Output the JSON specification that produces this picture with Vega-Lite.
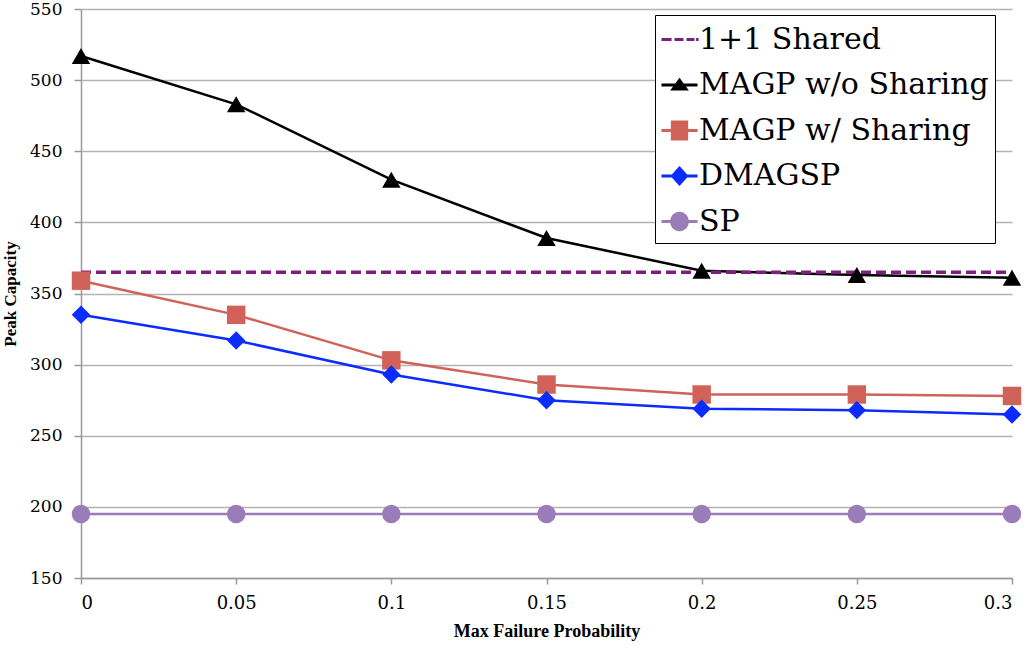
{
  "$schema": "https://vega.github.io/schema/vega-lite/v6.json",
  "width": 931,
  "height": 569,
  "autosize": {"type": "none"},
  "padding": {"left": 81, "top": 9, "right": 18, "bottom": 75},
  "background": "white",
  "config": {"view": {"stroke": null}, "font": "Liberation Serif"},
  "data": {
    "values": [
      {"series": "1+1 Shared", "p": 0, "cap": 365},
      {"series": "1+1 Shared", "p": 0.3, "cap": 365},
      {"series": "MAGP w/o Sharing", "p": 0, "cap": 517},
      {"series": "MAGP w/o Sharing", "p": 0.05, "cap": 483},
      {"series": "MAGP w/o Sharing", "p": 0.1, "cap": 430},
      {"series": "MAGP w/o Sharing", "p": 0.15, "cap": 389},
      {"series": "MAGP w/o Sharing", "p": 0.2, "cap": 366},
      {"series": "MAGP w/o Sharing", "p": 0.25, "cap": 363},
      {"series": "MAGP w/o Sharing", "p": 0.3, "cap": 361},
      {"series": "MAGP w/ Sharing", "p": 0, "cap": 359},
      {"series": "MAGP w/ Sharing", "p": 0.05, "cap": 335},
      {"series": "MAGP w/ Sharing", "p": 0.1, "cap": 303},
      {"series": "MAGP w/ Sharing", "p": 0.15, "cap": 286},
      {"series": "MAGP w/ Sharing", "p": 0.2, "cap": 279},
      {"series": "MAGP w/ Sharing", "p": 0.25, "cap": 279},
      {"series": "MAGP w/ Sharing", "p": 0.3, "cap": 278},
      {"series": "DMAGSP", "p": 0, "cap": 335},
      {"series": "DMAGSP", "p": 0.05, "cap": 317},
      {"series": "DMAGSP", "p": 0.1, "cap": 293},
      {"series": "DMAGSP", "p": 0.15, "cap": 275},
      {"series": "DMAGSP", "p": 0.2, "cap": 269},
      {"series": "DMAGSP", "p": 0.25, "cap": 268},
      {"series": "DMAGSP", "p": 0.3, "cap": 265},
      {"series": "SP", "p": 0, "cap": 195},
      {"series": "SP", "p": 0.05, "cap": 195},
      {"series": "SP", "p": 0.1, "cap": 195},
      {"series": "SP", "p": 0.15, "cap": 195},
      {"series": "SP", "p": 0.2, "cap": 195},
      {"series": "SP", "p": 0.25, "cap": 195},
      {"series": "SP", "p": 0.3, "cap": 195}
    ]
  },
  "encoding": {
    "x": {
      "field": "p", "type": "quantitative",
      "scale": {"domain": [0, 0.3], "nice": false, "zero": false},
      "axis": {
        "title": "Max Failure Probability",
        "values": [0, 0.05, 0.1, 0.15, 0.2, 0.25, 0.3],
        "format": ".2~f",
        "grid": false,
        "domainColor": "#999999", "domainWidth": 1.5,
        "tickColor": "#999999", "tickSize": 6, "tickWidth": 1.5,
        "labelFont": "DejaVu Serif", "labelFontSize": 18, "labelColor": "black",
        "labelPadding": 10,
        "titleFont": "Liberation Serif", "titleFontSize": 18, "titleFontWeight": "bold", "titleColor": "black",
        "titlePadding": 10
      }
    },
    "y": {
      "field": "cap", "type": "quantitative",
      "scale": {"domain": [150, 550], "nice": false, "zero": false},
      "axis": {
        "title": "Peak Capacity",
        "values": [150, 200, 250, 300, 350, 400, 450, 500, 550],
        "grid": true, "gridColor": "#b3b3b3", "gridWidth": 1.5,
        "domainColor": "#999999", "domainWidth": 1.5,
        "tickColor": "#999999", "tickSize": 7, "tickWidth": 1.5,
        "labelFont": "DejaVu Serif", "labelFontSize": 17, "labelColor": "black",
        "labelPadding": 12,
        "titleFont": "Liberation Serif", "titleFontSize": 17, "titleFontWeight": "bold", "titleColor": "black",
        "titlePadding": 10
      }
    }
  },
  "layer": [
    {
      "transform": [{"filter": "datum.series !== '1+1 Shared'"}],
      "mark": {"type": "line", "strokeWidth": 2.5},
      "encoding": {
        "color": {
          "field": "series", "type": "nominal", "legend": null,
          "scale": {
            "domain": ["1+1 Shared", "MAGP w/o Sharing", "MAGP w/ Sharing", "DMAGSP", "SP"],
            "range": ["#7e1e80", "#000000", "#d0625a", "#0a2cff", "#9a7cb8"]
          }
        },
        "order": {"field": "p", "type": "quantitative"}
      }
    },
    {
      "transform": [{"filter": "datum.series === '1+1 Shared'"}],
      "mark": {"type": "line", "strokeWidth": 3.5, "strokeDash": [10, 5], "color": "#7e1e80"},
      "encoding": {}
    },
    {
      "transform": [{"filter": "datum.series !== '1+1 Shared'"}],
      "mark": {"type": "point", "filled": true, "opacity": 1, "size": 340},
      "encoding": {
        "color": {
          "field": "series", "type": "nominal", "legend": null,
          "scale": {
            "domain": ["1+1 Shared", "MAGP w/o Sharing", "MAGP w/ Sharing", "DMAGSP", "SP"],
            "range": ["#7e1e80", "#000000", "#d0625a", "#0a2cff", "#9a7cb8"]
          }
        },
        "shape": {
          "field": "series", "type": "nominal", "legend": null,
          "scale": {
            "domain": ["1+1 Shared", "MAGP w/o Sharing", "MAGP w/ Sharing", "DMAGSP", "SP"],
            "range": ["circle", "triangle-up", "square", "diamond", "circle"]
          }
        }
      }
    },
    {
      "transform": [{"filter": "datum.p < 0"}],
      "mark": {"type": "point", "filled": true, "opacity": 1, "size": 1300},
      "encoding": {
        "color": {
          "field": "series", "type": "nominal",
          "scale": {
            "domain": ["1+1 Shared", "MAGP w/o Sharing", "MAGP w/ Sharing", "DMAGSP", "SP"],
            "range": ["#7e1e80", "#000000", "#d0625a", "#0a2cff", "#9a7cb8"]
          },
          "legend": {
            "title": null, "orient": "none", "legendX": 574, "legendY": 6,
            "padding": 6, "strokeColor": "black", "fillColor": "white",
            "labelFont": "DejaVu Serif", "labelFontSize": 30, "labelColor": "black",
            "labelOffset": 1, "rowPadding": 11.5, "symbolSize": 1300, "symbolStrokeWidth": 0,
            "symbolOpacity": 1, "labelLimit": 400
          }
        },
        "shape": {
          "field": "series", "type": "nominal",
          "scale": {
            "domain": ["1+1 Shared", "MAGP w/o Sharing", "MAGP w/ Sharing", "DMAGSP", "SP"],
            "range": [
              "M-1,-0.09H-0.44V0.09H-1Z M-0.28,-0.09H0.22V0.09H-0.28Z M0.39,-0.09H0.83V0.09H0.39Z M0.92,-0.09H1.06V0.09H0.92Z",
              "M-1,-0.08H1V0.08H-1Z M0,-0.4L0.52,0.3L-0.52,0.3Z",
              "M-1,-0.08H1V0.08H-1Z M-0.48,-0.55H0.48V0.55H-0.48Z",
              "M-1,-0.08H1V0.08H-1Z M0,-0.55L0.5,0L0,0.55L-0.5,0Z",
              "M-1,-0.08H1V0.08H-1Z M-0.52,0A0.52,0.54 0 1,1 0.52,0A0.52,0.54 0 1,1 -0.52,0Z"
            ]
          },
          "legend": {
            "title": null, "orient": "none", "legendX": 574, "legendY": 6,
            "padding": 6, "strokeColor": "black", "fillColor": "white",
            "labelFont": "DejaVu Serif", "labelFontSize": 30, "labelColor": "black",
            "labelOffset": 1, "rowPadding": 11.5, "symbolSize": 1300, "symbolStrokeWidth": 0,
            "symbolOpacity": 1, "labelLimit": 400
          }
        }
      }
    }
  ],
  "resolve": {"scale": {"color": "independent", "shape": "independent"}}
}
